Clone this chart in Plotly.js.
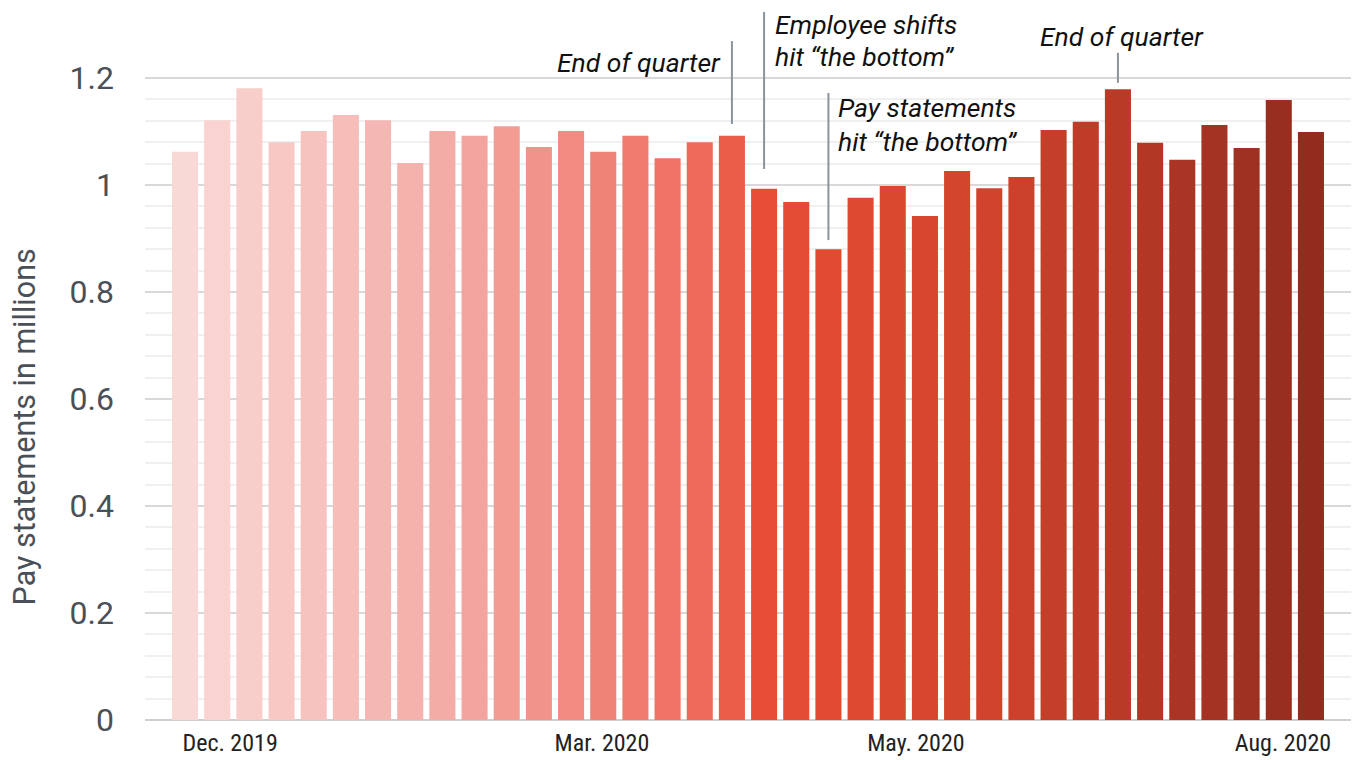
<!DOCTYPE html>
<html>
<head>
<meta charset="utf-8">
<script src="https://cdn.plot.ly/plotly-3.0.1.min.js"></script>
<style>
  html, body { margin: 0; padding: 0; background: #fff; }
  #chart { width: 1355px; height: 760px; }
</style>
</head>
<body>
<div id="chart"></div>
<script>
// Weekly pay statements (millions), Dec. 2019 – Aug. 2020
const weekIndex = [0,1,2,3,4,5,6,7,8,9,10,11,12,13,14,15,16,17,18,19,20,21,22,23,24,25,26,27,28,29,30,31,32,33,34,35];
const payStatements = [1.062,1.121,1.181,1.080,1.101,1.131,1.121,1.041,1.101,1.092,1.110,1.071,
                       1.101,1.062,1.092,1.050,1.080,1.092,0.993,0.968,0.880,0.976,0.998,0.942,
                       1.026,0.994,1.015,1.103,1.118,1.179,1.079,1.047,1.112,1.069,1.159,1.099];
const monthTickPos = [1.40, 12.96, 22.72, 34.13];
const monthTickText = ["Dec. 2019", "Mar. 2020", "May. 2020", "Aug. 2020"];
const yTickVals = [0, 0.2, 0.4, 0.6, 0.8, 1.0, 1.2];
const yTickText = ["0", "0.2", "0.4", "0.6", "0.8", "1", "1.2"];

// colour ramp (style)
const stops = [[0,'#f9d9d6'],[8,'#f4aca7'],[16,'#ee6a5b'],[18,'#e84e35'],[25,'#d1432c'],[35,'#922c1f']];
function hex2rgb(h){return [parseInt(h.substr(1,2),16),parseInt(h.substr(3,2),16),parseInt(h.substr(5,2),16)];}
function colorAt(i){
  for (let k=0;k<stops.length-1;k++){
    const [a,ca]=stops[k],[b,cb]=stops[k+1];
    if(i>=a && i<=b){
      const t=(i-a)/(b-a), A=hex2rgb(ca), B=hex2rgb(cb);
      return 'rgb('+A.map((v,j)=>Math.round(v+(B[j]-v)*t)).join(',')+')';
    }
  }
  return stops[stops.length-1][1];
}
const barColors = weekIndex.map(colorAt);

const minorVals = [];
for (let k=1;k<30;k++){ if(k%5!==0) minorVals.push(+(k*0.04).toFixed(2)); }

const annFont = {family:'Roboto, "Open Sans", sans-serif', size:26.5, color:'#111'};
const lineColor = '#8a949c';

const layout = {
  width:1355, height:760,
  margin:{l:145, r:4, t:5, b:40},
  paper_bgcolor:'#fff', plot_bgcolor:'#fff',
  showlegend:false,
  bargap:0.19,
  xaxis:{
    range:[-1.245, 36.245], showgrid:false, zeroline:false, showline:false,
    tickmode:'array', tickvals:monthTickPos, ticktext:monthTickText,
    ticks:'', ticklabelstandoff:6,
    tickfont:{family:'"Liberation Sans Narrow", "Roboto Condensed", "Arial Narrow", Roboto, sans-serif', size:24, color:'#222'},
    fixedrange:true
  },
  yaxis:{
    range:[0, 715/535], tickmode:'array', tickvals:yTickVals, ticktext:yTickText,
    showgrid:true, gridcolor:'#d9d9d9', gridwidth:2,
    zeroline:true, zerolinecolor:'#cfcfcf', zerolinewidth:2,
    showline:false, ticks:'', ticklabelstandoff:30,
    tickfont:{family:'Roboto, sans-serif', size:32, color:'#4a5057'},
    minor:{tickmode:'array', tickvals:minorVals, showgrid:true, gridcolor:'#f0f0f0', gridwidth:2, ticks:''},
    fixedrange:true
  },
  shapes:[
    {type:'line', xref:'x', yref:'y', x0:17, x1:17, y0:1.114, y1:1.269, line:{color:lineColor, width:2}},
    {type:'line', xref:'x', yref:'y', x0:18, x1:18, y0:1.030, y1:1.3234, line:{color:lineColor, width:2}},
    {type:'line', xref:'x', yref:'y', x0:20, x1:20, y0:0.897, y1:1.172, line:{color:lineColor, width:2}},
    {type:'line', xref:'x', yref:'y', x0:29, x1:29, y0:1.191, y1:1.247, line:{color:lineColor, width:2}}
  ],
  annotations:[
    {xref:'x', yref:'y', x:16.72, y:1.2299, text:'<i>End of quarter</i>', showarrow:false, xanchor:'right', yanchor:'middle', font:annFont},
    {xref:'x', yref:'y', x:18.30, y:1.2991, text:'<i>Employee shifts</i>', showarrow:false, xanchor:'left', yanchor:'middle', font:annFont, borderpad:0},
    {xref:'x', yref:'y', x:18.30, y:1.2393, text:'<i>hit “the bottom”</i>', showarrow:false, xanchor:'left', yanchor:'middle', font:annFont, borderpad:0},
    {xref:'x', yref:'y', x:20.27, y:1.1440, text:'<i>Pay statements</i>', showarrow:false, xanchor:'left', yanchor:'middle', font:annFont, borderpad:0},
    {xref:'x', yref:'y', x:20.27, y:1.0822, text:'<i>hit “the bottom”</i>', showarrow:false, xanchor:'left', yanchor:'middle', font:annFont, borderpad:0},
    {xref:'x', yref:'y', x:29.13, y:1.2776, text:'<i>End of quarter</i>', showarrow:false, xanchor:'center', yanchor:'middle', font:annFont},
    {xref:'paper', yref:'paper', x:-0.1, xshift:0, y:(760-40-427)/715, text:'Pay statements in millions', textangle:-90, showarrow:false,
     xanchor:'center', yanchor:'middle', font:{family:'Roboto, sans-serif', size:30.5, color:'#4a5057'}}
  ]
};

const trace = {
  type:'bar', x:weekIndex, y:payStatements,
  marker:{color:barColors, line:{width:0}},
  hoverinfo:'y'
};

Plotly.newPlot('chart', [trace], layout, {displayModeBar:false, staticPlot:true});
</script>
</body>
</html>
